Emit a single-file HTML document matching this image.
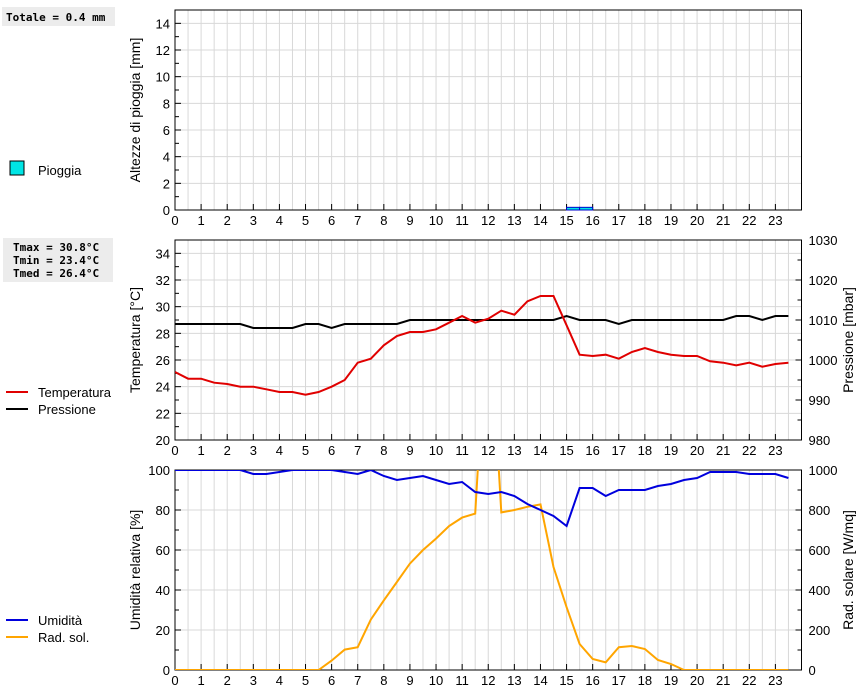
<!DOCTYPE html>
<html><head><meta charset="utf-8"><style>
body{margin:0;background:#fff;}
svg{display:block;font-family:"Liberation Sans",sans-serif;}
.mono{font-family:"DejaVu Sans Mono","Liberation Mono",monospace;font-weight:bold;font-size:11px;}
</style></head><body>
<svg id="c" width="860" height="690" xmlns="http://www.w3.org/2000/svg">
<rect x="0" y="0" width="860" height="690" fill="#fff"/>
<rect x="2" y="7" width="113" height="19" fill="#ececec"/>
<text class="mono" x="6" y="21">Totale = 0.4 mm</text>
<rect x="3" y="238" width="110" height="44" fill="#ececec"/>
<text class="mono" x="13" y="251">Tmax = 30.8°C</text>
<text class="mono" x="13" y="264">Tmin = 23.4°C</text>
<text class="mono" x="13" y="277">Tmed = 26.4°C</text>
<g id="g"></g>
</svg>
<script>
const hours=[];for(let i=0;i<48;i++)hours.push(i/2);
const rainHours=[15,15.5];
const rainValues=[0.2,0.2];
const tempValues=[25.1,24.6,24.6,24.3,24.2,24.0,24.0,23.8,23.6,23.6,23.4,23.6,24.0,24.5,25.8,26.1,27.1,27.8,28.1,28.1,28.3,28.8,29.3,28.8,29.1,29.7,29.4,30.4,30.8,30.8,28.6,26.4,26.3,26.4,26.1,26.6,26.9,26.6,26.4,26.3,26.3,25.9,25.8,25.6,25.8,25.5,25.7,25.8];
const pressValues=[1009,1009,1009,1009,1009,1009,1008,1008,1008,1008,1009,1009,1008,1009,1009,1009,1009,1009,1010,1010,1010,1010,1010,1010,1010,1010,1010,1010,1010,1010,1011,1010,1010,1010,1009,1010,1010,1010,1010,1010,1010,1010,1010,1011,1011,1010,1011,1011];
const humValues=[100,100,100,100,100,100,98,98,99,100,100,100,100,99,98,100,97,95,96,97,95,93,94,89,88,89,87,83,80,77,72,91,91,87,90,90,90,92,93,95,96,99,99,99,98,98,98,96];
const solarValues=[0,0,0,0,0,0,0,0,0,0,0,0,47,102,114,252,348,440,532,600,657,720,762,782,1900,788,800,816,828,515,314,130,55,38,114,120,105,50,30,0,0,0,0,0,0,0,0,0];
const xTicks=[0,1,2,3,4,5,6,7,8,9,10,11,12,13,14,15,16,17,18,19,20,21,22,23];
const NS='http://www.w3.org/2000/svg';
const g=document.getElementById('g');
const X0=175,X1=801.5;
const xs=h=>X0+h*(X1-X0)/24;
function el(t,a,p){const e=document.createElementNS(NS,t);for(const k in a)e.setAttribute(k,a[k]);(p||g).appendChild(e);return e;}
function txt(x,y,s,anchor,rot){const e=el('text',{x:x,y:y,'font-size':13,'text-anchor':anchor||'middle',fill:'#000'});if(rot)e.setAttribute('transform','rotate(-90 '+x+' '+y+')');e.textContent=s;return e;}
function panel(name,top,bot,lmin,lmax,lstep,rmin,rmax,rstep,ltitle,rtitle){
  const pg=el('g',{});
  
  
  const ly=v=>bot-(v-lmin)*(bot-top)/(lmax-lmin);
  for(let i=1;i<48;i++){el('line',{x1:xs(i/2),x2:xs(i/2),y1:top,y2:bot,stroke:'#d8d8d8','stroke-width':1},pg);}
  for(let v=lmin+lstep;v<lmax-1e-9;v+=lstep){el('line',{x1:X0,x2:X1,y1:ly(v),y2:ly(v),stroke:'#d8d8d8'},pg);}
  el('rect',{x:X0,y:top,width:X1-X0,height:bot-top,fill:'none',stroke:'#000'},pg);
  for(let v=lmin;v<=lmax+1e-9;v+=lstep){
    el('line',{x1:X0,x2:X0+6,y1:ly(v),y2:ly(v),stroke:'#000'},pg);
    if(v+lstep/2<=lmax+1e-9)el('line',{x1:X0,x2:X0+4,y1:ly(v+lstep/2),y2:ly(v+lstep/2),stroke:'#000'},pg);
    const t=txt(X0-5,ly(v)+5,String(v),'end');
    
  }
  const lt=txt(140,(top+bot)/2,ltitle,'middle',true);lt.setAttribute('font-size',14);
  
  if(rtitle){
    const ry=v=>bot-(v-rmin)*(bot-top)/(rmax-rmin);
    for(let v=rmin;v<=rmax+1e-9;v+=rstep){
      el('line',{x1:X1,x2:X1-6,y1:ry(v),y2:ry(v),stroke:'#000'},pg);
      if(v<rmax)el('line',{x1:X1,x2:X1-4,y1:ry(v+rstep/2),y2:ry(v+rstep/2),stroke:'#000'},pg);
      const t=txt(X1+7,ry(v)+5,String(v),'start');
      
    }
    const rt=txt(853,(top+bot)/2,rtitle,'middle',true);rt.setAttribute('font-size',14);
    
  }
  xTicks.forEach(h=>{
    el('line',{x1:xs(h),x2:xs(h),y1:bot,y2:bot-6,stroke:'#000'},pg);
    const t=txt(xs(h),bot+15,String(h));
    
  });
  return {ly:ly,ry:rtitle?(v=>bot-(v-rmin)*(bot-top)/(rmax-rmin)):null,top:top,bot:bot};
}
function line(vals,yf,color,name,top,bot){
  const cid='clip'+name;
  const cp=el('clipPath',{id:cid});el('rect',{x:X0,y:top,width:X1-X0,height:bot-top},cp);
  const pts=vals.map((v,i)=>xs(hours[i]).toFixed(1)+','+yf(v).toFixed(1)).join(' ');
  const p=el('polyline',{points:pts,fill:'none',stroke:color,'stroke-width':2,'clip-path':'url(#'+cid+')'});
  
  
}
function legend(y,color,label,name){
  const l=el('line',{x1:6,x2:28,y1:y,y2:y,stroke:color,'stroke-width':2});
  
  const t=txt(38,y+5,label,'start');
  
}
const p1=panel('rain',10,210,0,15,2,0,0,0,'Altezze di pioggia [mm]',null);
rainHours.forEach((h,i)=>{
  const r=el('rect',{x:xs(h),y:p1.ly(rainValues[i]),width:xs(h+0.5)-xs(h),height:210-p1.ly(rainValues[i]),fill:'#00e5e5',stroke:'#0000cc','stroke-width':1});
  
  
});
const sw=el('rect',{x:10,y:161,width:14,height:14,fill:'#00e5e5',stroke:'#000'});

const rl=txt(38,175,'Pioggia','start');
const p2=panel('temp',240,440,20,35,2,980,1030,10,'Temperatura [°C]','Pressione [mbar]');
line(pressValues,p2.ry,'#000','pressure',240,440);
line(tempValues,p2.ly,'#e00000','temperature',240,440);
legend(392,'#e00000','Temperatura','temperature');
legend(409,'#000','Pressione','pressure');
const p3=panel('humidity',470,670,0,100,20,0,1000,200,'Umidità relativa [%]','Rad. solare [W/mq]');
line(solarValues,p3.ry,'#ffa500','solar',470,670);
line(humValues,p3.ly,'#0000dd','humidity',470,670);
legend(620,'#0000dd','Umidità','humidity');
legend(637,'#ffa500','Rad. sol.','solar');
</script>
</body></html>
